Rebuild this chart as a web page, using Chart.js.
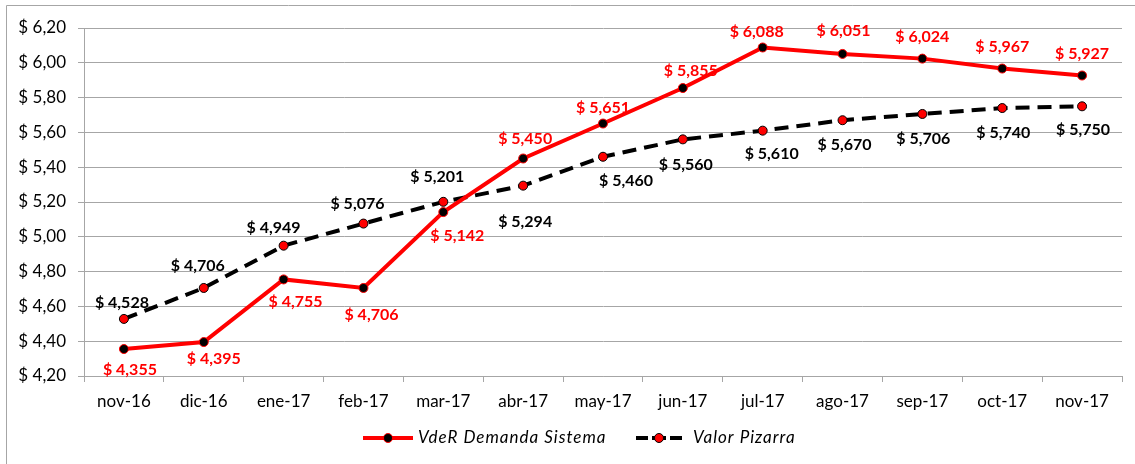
<!DOCTYPE html>
<html>
<head>
<meta charset="utf-8">
<script src="https://cdn.jsdelivr.net/npm/chart.js@4/dist/chart.umd.min.js"></script>
<style>
  html, body { margin: 0; padding: 0; background: #fff; }
  #wrap { position: relative; width: 1135px; height: 464px; }
</style>
</head>
<body>
<div id="wrap"><canvas id="c" width="1135" height="464"></canvas></div>
<script>
// ---- Data ----
const categories = ['nov-16','dic-16','ene-17','feb-17','mar-17','abr-17','may-17','jun-17','jul-17','ago-17','sep-17','oct-17','nov-17'];
const vderDemanda = [4.355, 4.395, 4.755, 4.706, 5.142, 5.450, 5.651, 5.855, 6.088, 6.051, 6.024, 5.967, 5.927];
const valorPizarra = [4.528, 4.706, 4.949, 5.076, 5.201, 5.294, 5.460, 5.560, 5.610, 5.670, 5.706, 5.740, 5.750];
const seriesNames = ['VdeR Demanda Sistema', 'Valor Pizarra'];
const yMin = 4.2, yMax = 6.2, yStep = 0.2;

// ---- Label nudges (style only, pixel offsets of value labels from their points) ----
const vderLabelNudge = [[6,21],[10,17],[12,22],[8,27],[14,24],[2,-20],[0,-16],[8,-17],[-6,-16],[1,-23],[0,-22],[0,-22],[0,-22]];
const pizarraLabelNudge = [[-2,-16],[-6,-22],[-10,-18],[-6,-20],[-6,-25],[2,36],[23,24],[3,25],[9,23],[2,25],[1,25],[1,25],[1,24]];

const FONT = 'Lato, "Open Sans", "Liberation Sans", sans-serif';
const fmtMoney = (v, d) => '$ ' + v.toFixed(d).replace('.', ',');

const valueLabels = {
  id: 'valueLabels',
  afterDatasetsDraw(chart) {
    const ctx = chart.ctx;
    ctx.save();
    ctx.font = 'bold 16px ' + FONT;
    ctx.textAlign = 'center';
    ctx.textBaseline = 'middle';
    const cfg = [
      { color: '#ff0000', nudge: vderLabelNudge, data: vderDemanda },
      { color: '#000000', nudge: pizarraLabelNudge, data: valorPizarra }
    ];
    cfg.forEach((c, di) => {
      const meta = chart.getDatasetMeta(di);
      ctx.fillStyle = c.color;
      meta.data.forEach((pt, i) => {
        const n = c.nudge[i];
        ctx.fillText(fmtMoney(c.data[i], 3), pt.x + n[0], pt.y + n[1]);
      });
    });
    ctx.restore();
  }
};

const frameAndLegend = {
  id: 'frameAndLegend',
  afterDraw(chart) {
    const ctx = chart.ctx;
    ctx.save();
    // outer frame (top & left visible)
    ctx.strokeStyle = '#a6a6a6';
    ctx.lineWidth = 1;
    ctx.beginPath();
    ctx.moveTo(6.5, 464); ctx.lineTo(6.5, 5.5); ctx.lineTo(1135, 5.5);
    ctx.stroke();

    // custom legend
    const y = 438;
    ctx.font = 'italic 17px ' + FONT;
    ctx.textBaseline = 'middle';
    ctx.textAlign = 'left';
    // item 1
    ctx.strokeStyle = '#ff0000'; ctx.lineWidth = 4; ctx.setLineDash([]);
    ctx.beginPath(); ctx.moveTo(363, y); ctx.lineTo(413, y); ctx.stroke();
    ctx.beginPath(); ctx.arc(388, y, 4.5, 0, Math.PI*2);
    ctx.fillStyle = '#000'; ctx.fill();
    ctx.lineWidth = 1; ctx.strokeStyle = '#ff0000'; ctx.stroke();
    ctx.fillStyle = '#000';
    try { ctx.letterSpacing = '1px'; } catch (e) {}
    ctx.fillText(seriesNames[0], 418, y);
    try { ctx.letterSpacing = '0px'; } catch (e) {}
    // item 2
    ctx.strokeStyle = '#000'; ctx.lineWidth = 4;
    ctx.beginPath(); ctx.moveTo(636, y); ctx.lineTo(648, y); ctx.moveTo(670, y); ctx.lineTo(682, y); ctx.stroke();
    ctx.beginPath(); ctx.moveTo(652, y); ctx.lineTo(666, y); ctx.stroke();
    ctx.beginPath(); ctx.arc(659, y, 4.5, 0, Math.PI*2);
    ctx.fillStyle = '#ff0000'; ctx.fill();
    ctx.lineWidth = 1; ctx.strokeStyle = '#000'; ctx.stroke();
    ctx.fillStyle = '#000';
    try { ctx.letterSpacing = '1px'; } catch (e) {}
    ctx.fillText(seriesNames[1], 693, y);
    try { ctx.letterSpacing = '0px'; } catch (e) {}
    ctx.restore();
  }
};

new Chart(document.getElementById('c'), {
  type: 'line',
  data: {
    labels: categories,
    datasets: [
      {
        label: seriesNames[0],
        data: vderDemanda,
        borderColor: '#ff0000',
        borderWidth: 4,
        pointRadius: 4.5,
        pointBackgroundColor: '#000000',
        pointBorderColor: '#ff0000',
        pointBorderWidth: 1,
        tension: 0,
        fill: false
      },
      {
        label: seriesNames[1],
        data: valorPizarra,
        borderColor: '#000000',
        borderWidth: 4,
        borderDash: [14, 8],
        pointRadius: 4.5,
        pointBackgroundColor: '#ff0000',
        pointBorderColor: '#000000',
        pointBorderWidth: 1,
        tension: 0,
        fill: false
      }
    ]
  },
  options: {
    responsive: false,
    animation: false,
    devicePixelRatio: 1,
    layout: { padding: { top: 28, right: 13, bottom: 48, left: 0 } },
    plugins: {
      legend: { display: false },
      tooltip: { enabled: false }
    },
    scales: {
      x: {
        offset: true,
        grid: { display: true, drawOnChartArea: false, drawTicks: true, tickLength: 6, offset: true, color: '#a6a6a6' },
        border: { display: true, color: '#a6a6a6', width: 1 },
        ticks: { color: '#000', font: { family: FONT, size: 17 }, padding: 9, maxRotation: 0, autoSkip: false },
        afterFit(s) { s.height = 40; }
      },
      y: {
        min: yMin, max: yMax,
        grid: { color: '#a6a6a6', lineWidth: 1, drawTicks: true, tickLength: 6 },
        border: { display: true, color: '#a6a6a6', width: 1 },
        ticks: {
          stepSize: yStep,
          color: '#000',
          padding: 12,
          font: { family: FONT, size: 17 },
          callback: (v) => fmtMoney(Number(v), 2)
        },
        afterFit(s) { s.width = 84; }
      }
    }
  },
  plugins: [valueLabels, frameAndLegend]
});
</script>
</body>
</html>
